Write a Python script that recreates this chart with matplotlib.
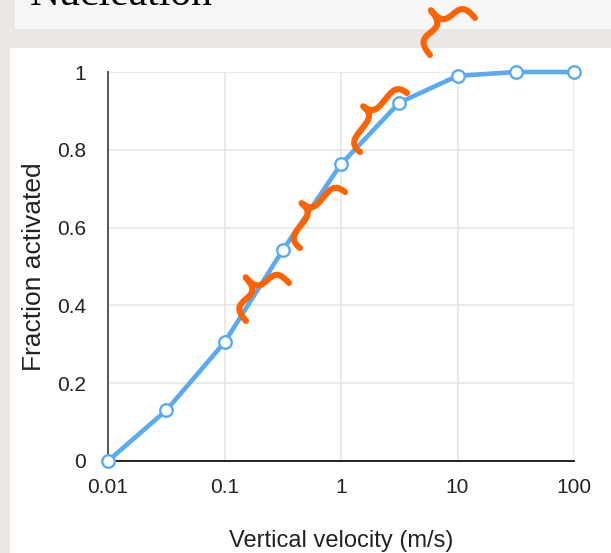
import numpy as np
import matplotlib
matplotlib.use('Agg')
import matplotlib.pyplot as plt
from matplotlib.path import Path
from matplotlib.patches import PathPatch, Rectangle

# data
velocity = [0.01, 0.0316, 0.1, 0.316, 1, 3.16, 10, 31.6, 100]
fraction = [0.0, 0.13, 0.305, 0.542, 0.763, 0.921, 0.99, 1.0, 1.0]
x_ticks = [0.01, 0.1, 1, 10, 100]
x_labels = ['0.01', '0.1', '1', '10', '100']
y_ticks = [0, 0.2, 0.4, 0.6, 0.8, 1]
y_labels = ['0', '0.2', '0.4', '0.6', '0.8', '1']

W, H = 611, 553
BLUE = '#58aaf4'
ORANGE = '#ff6300'

plt.rcParams['font.family'] = ['Liberation Sans', 'DejaVu Sans']

fig = plt.figure(figsize=(W / 100, H / 100), dpi=100, facecolor='#ebe7e4')


def px_rect(x0, y0, x1, y1, color):
    fig.patches.append(Rectangle((x0 / W, 1 - y1 / H), (x1 - x0) / W, (y1 - y0) / H,
                                 transform=fig.transFigure, facecolor=color,
                                 edgecolor='none', zorder=-10))


# slide background pieces
px_rect(15, 0, W, 29, '#f7f7f7')
px_rect(10, 48, W, H, 'white')
fig.text(30 / W, 1 - 5 / H, 'Nucleation', family='Liberation Serif', fontsize=30,
         color='black', va='baseline', ha='left')

ax = fig.add_axes([108 / W, 1 - 461 / H, (574 - 108) / W, (461 - 72) / H])
ax.set_facecolor('white')
ax.set_xscale('log')
ax.set_xlim(0.01, 100)
ax.set_ylim(0, 1)
ax.set_xticks(x_ticks)
ax.set_xticklabels(x_labels)
ax.set_yticks(y_ticks)
ax.set_yticklabels(y_labels)
ax.minorticks_off()
ax.tick_params(length=0, labelsize=15, colors='#222222')
ax.tick_params(axis='x', pad=12)
ax.tick_params(axis='y', pad=16)
ax.grid(True, color='#e6e6e6', linewidth=1.2)
ax.set_axisbelow(True)
for s in ['top', 'right']:
    ax.spines[s].set_visible(False)
ax.spines['left'].set_color('#555555')
ax.spines['left'].set_linewidth(1.4)
ax.spines['bottom'].set_color('#222222')
ax.spines['bottom'].set_linewidth(1.4)
ax.set_xlabel('Vertical velocity (m/s)', fontsize=17, color='#222222', va='baseline')
ax.xaxis.set_label_coords(0.5, (461 - 547) / 389)
ax.set_ylabel('Fraction activated', fontsize=19, color='#222222', va='center')
ax.yaxis.set_label_coords((34 - 108) / 466, 0.5)

ax.plot(velocity, fraction, color=BLUE, linewidth=3.3, marker='o', markersize=9,
        markerfacecolor='white', markeredgecolor=BLUE, markeredgewidth=1.7,
        clip_on=False, zorder=3)


# hand-drawn style curly braces (pixel positions of the two tips and the cusp depth)
def brace(a, b, depth):
    a = np.array(a, float)
    b = np.array(b, float)
    L = np.linalg.norm(b - a)
    u = (b - a) / L
    v = np.array([u[1], -u[0]])
    if v[1] > 0:
        v = -v
    d = depth
    local = [(0, 0), (0, 0.5 * d), (0.1 * L, 0.5 * d), (0.25 * L, 0.5 * d),
             (0.4 * L, 0.5 * d), (0.5 * L, 0.5 * d), (0.5 * L, d),
             (0.5 * L, 0.5 * d), (0.6 * L, 0.5 * d), (0.75 * L, 0.5 * d),
             (0.9 * L, 0.5 * d), (L, 0.5 * d), (L, 0)]
    pts = []
    for p, q in local:
        xy = a + p * u + q * v
        pts.append((xy[0] / W, 1 - xy[1] / H))
    codes = [Path.MOVETO] + [Path.CURVE4] * 12
    fig.patches.append(PathPatch(Path(pts, codes), transform=fig.transFigure,
                                 facecolor='none', edgecolor=ORANGE, linewidth=4.4,
                                 capstyle='round', joinstyle='round', zorder=10))


brace((246, 321), (289, 283), 33)
brace((300, 248), (345, 192), 27)
brace((360, 152), (407, 93), 26)
brace((430, 55), (475, 18), 34)

fig.savefig('out.png', dpi=100, facecolor=fig.get_facecolor())
